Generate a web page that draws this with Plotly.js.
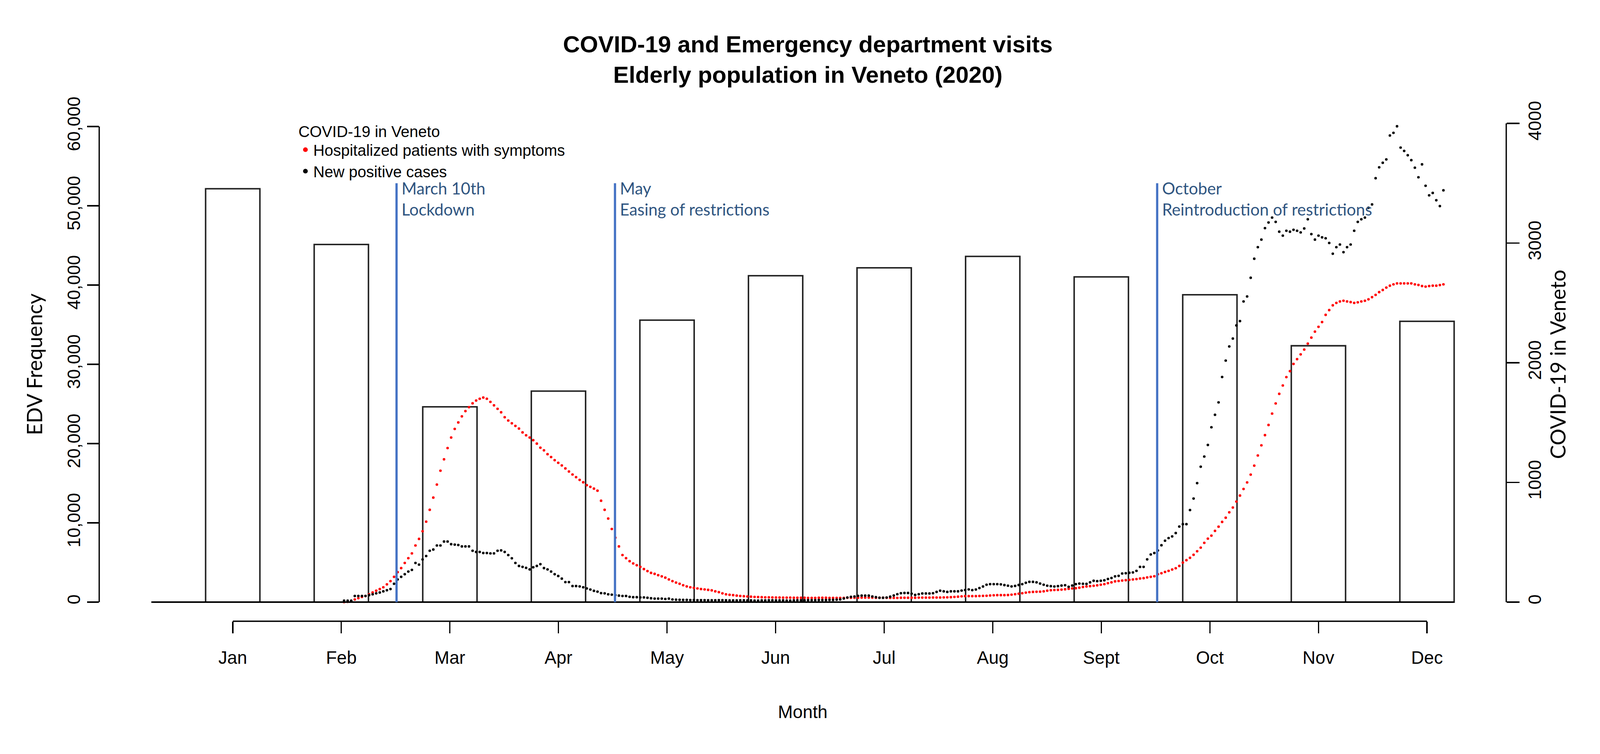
<!DOCTYPE html>
<html>
<head>
<meta charset="utf-8">
<script src="https://cdn.plot.ly/plotly-3.0.1.min.js"></script>
<style>html,body{margin:0;padding:0;background:#fff;overflow:hidden;}</style>
</head>
<body>
<div id="chart"></div>
<script>
// monthly emergency department visits (bars)
const months = ['Jan', 'Feb', 'Mar', 'Apr', 'May', 'Jun', 'Jul', 'Aug', 'Sept', 'Oct', 'Nov', 'Dec'];
const edvVisits = [52150, 45120, 24640, 26620, 35570, 41180, 42170, 43610, 41030, 38770, 32340, 35420];

// daily COVID-19 series, first value = 24 Feb 2020 (day of year 55)
const firstDay = 55;
const hospitalized = [
  0, 2, 8, 22, 33, 43, 51,
  65, 80, 95, 109, 124, 148, 175, 211, 250, 284, 327, 367, 407,
  473, 528, 592, 672, 771, 873, 982, 1098, 1193, 1287, 1375, 1447, 1501, 1552, 1596, 1629, 1661, 1684, 1699, 1709,
  1699, 1673, 1644, 1615, 1586, 1545, 1517, 1494, 1472, 1450, 1418, 1394, 1375, 1353, 1324, 1290,
  1268, 1236, 1212, 1186, 1164, 1142, 1117, 1091, 1066, 1044, 1021, 1001, 977, 963, 948, 931,
  847, 771, 698, 611, 538, 465, 393, 367, 342, 323, 308, 294, 276, 259, 244, 236, 225, 215, 204, 189,
  175, 163, 153, 141, 131, 124, 119, 114, 109, 106, 102, 98, 90, 83, 73, 65, 61, 58, 54,
  51, 49, 47, 45, 43, 42, 41, 40, 40, 39,
  38, 38, 37, 37, 37, 36, 36, 36, 36, 35, 35, 35, 36, 36, 36, 35, 35, 35, 35, 35, 36, 36, 36, 36, 37, 37, 37, 37,
  36, 36, 36, 36, 35, 35, 35, 36, 36, 36, 36, 36, 37, 37, 37, 37, 38, 38, 38, 39, 40, 41, 43,
  45, 48, 50, 50, 50, 50, 51, 52, 53, 55, 57, 58, 58, 58, 59, 62, 66, 70, 74,
  79, 83, 85, 86, 87, 90, 95, 99, 101, 102, 104, 107, 111, 114, 116, 120,
  126, 130, 133, 136, 140, 145, 150, 158, 165,
  173, 176, 180, 183, 186, 189, 192, 197, 200, 206, 211, 216,
  233, 241, 252, 261, 272, 283, 302, 330, 350, 370, 395, 425, 455, 495, 530, 555, 595, 630, 670, 705,
  750, 790, 840, 890, 945, 1000, 1065, 1140, 1225, 1310, 1395, 1480, 1575, 1660, 1740, 1810, 1880, 1930, 1990, 2030,
  2070, 2110, 2160, 2210, 2260, 2300, 2340, 2400, 2440, 2480, 2500, 2512, 2518, 2512, 2507, 2500, 2505, 2512, 2518, 2530,
  2548, 2567, 2590, 2608, 2628, 2644, 2655, 2663, 2663, 2663, 2663, 2663, 2655, 2650, 2641, 2636, 2641, 2644, 2644, 2649, 2655
];
const newCases = [
  12, 12, 12, 51, 51, 51, 51,
  58, 65, 73, 80, 90, 99, 109,
  153, 189, 211, 233, 255, 269,
  327, 313, 356, 385, 429, 439, 473, 473, 506, 506,
  484, 480, 477, 465, 465, 465, 429, 419, 419, 410, 410, 407, 407,
  429, 432, 419, 393, 366, 327, 302, 294, 286, 273, 291, 302, 317,
  284, 273, 255, 233, 218, 196, 167, 167, 134, 134,
  131, 124, 114, 105, 94, 87, 75, 73, 65, 62,
  58, 54, 51, 51, 44, 41, 41, 39, 39, 36, 32, 29, 29, 29, 26, 29,
  22, 20, 19, 18, 18, 17, 17, 16, 16, 16, 15, 15, 15, 16, 16, 15, 14, 14, 14, 15,
  15, 14, 14, 13, 13, 14, 14, 15, 15, 14, 14, 14, 13, 13, 14, 15, 15, 15, 16, 16,
  16, 17, 17, 17, 18, 18, 20,
  22, 30, 38, 44, 47, 52, 54, 54, 54, 47, 41, 36, 36, 38, 45, 55, 66, 74, 76, 76,
  70, 60, 66, 72, 72, 72, 74, 85, 95, 90, 85, 90, 90, 90, 96, 101, 106, 100, 105, 117,
  130, 145, 150, 150, 150, 148, 142, 137, 131, 135, 143, 150, 161, 169, 169, 165, 155, 145, 137, 133,
  130, 133, 138, 141, 128, 138, 150, 155, 153, 152, 165, 178, 175, 178, 182, 193, 201, 215,
  219, 239, 241, 245, 248, 261, 294, 294, 357, 398, 410, 431, 475, 513, 535, 549, 577, 631, 651, 651,
  769, 865, 994, 1131, 1216, 1313, 1461, 1565, 1669, 1881, 2018, 2136, 2202, 2312, 2348, 2512, 2554, 2710, 2869, 2966,
  3029, 3125, 3172, 3213, 3177, 3095, 3062, 3103, 3095, 3111, 3103, 3089, 3122, 3199, 3075, 3029, 3062, 3048, 3040, 3001,
  2911, 2966, 2988, 2924, 2966, 2988, 3103, 3177, 3199, 3213, 3295, 3323, 3542, 3633, 3671, 3699, 3899, 3921, 3976, 3798,
  3770, 3734, 3693, 3630, 3550, 3658, 3479, 3399, 3419, 3358, 3309, 3441
];

// events marked on the chart (day of year)
const eventDays = [69.7, 130.9, 282.8];
const eventLabels = ['March 10th<br>Lockdown', 'May<br>Easing of restrictions', 'October<br>Reintroduction of restrictions'];

const leftTicks = [0, 10000, 20000, 30000, 40000, 50000, 60000];
const rightTicks = [0, 1000, 2000, 3000, 4000];

// barplot layout: width 1, space 1
const barX = months.map((m, i) => 2 * i + 1.5);
const days = hospitalized.map((v, i) => firstDay + i);

// sizes are measured on the 4516 x 1931 original, scaled to the real viewport
const vw = document.documentElement.clientWidth || window.innerWidth;
const vh = document.documentElement.clientHeight || window.innerHeight;
const SX = vw / 4516, SY = vh / 1931;
const SF = Math.sqrt(SX * SY);
const hx = v => v * SX;   // horizontal lengths
const vy = v => v * SY;   // vertical lengths
const fs = v => v * SF;   // fonts, line widths, markers

const ARIAL = 'Liberation Sans, Arial, sans-serif';
const CALIBRI = 'Lato, Open Sans, sans-serif';

var bars = {
    x: barX,
    y: edvVisits,
    type: 'bar',
    width: 1,
    marker: {color: 'white', line: {color: '#222', width: fs(4)}},
    showlegend: false,
    xaxis: 'x',
    yaxis: 'y'
};

var trace1 = {
    x: days,
    y: hospitalized,
    type: 'scatter',
    mode: 'markers',
    name: 'Hospitalized patients with symptoms',
    marker: {color: '#ff0000', size: fs(7)},
    xaxis: 'x2',
    yaxis: 'y2'
};

var trace2 = {
    x: days,
    y: newCases,
    type: 'scatter',
    mode: 'markers',
    name: 'New positive cases',
    marker: {color: '#000000', size: fs(7)},
    xaxis: 'x2',
    yaxis: 'y2'
};

var shapes = [
    // left and right axis lines only span the tick range
    {type: 'line', xref: 'paper', yref: 'y', x0: 0, x1: 0, y0: 0, y1: 60000, line: {color: '#000', width: fs(3.5)}},
    {type: 'line', xref: 'paper', yref: 'y2', x0: 1, x1: 1, y0: 0, y1: 4000, line: {color: '#000', width: fs(3.5)}},
    // month axis from Jan to Dec
    {type: 'line', xref: 'x', yref: 'paper', x0: barX[0], x1: barX[barX.length - 1], y0: 0, y1: 0, line: {color: '#000', width: fs(3.5)}},
    // bar baseline
    {type: 'line', xref: 'x', yref: 'y', x0: 0, x1: 24, y0: 0, y1: 0, line: {color: '#000', width: fs(4)}}
];
var annotations = [];
eventDays.forEach((d, i) => {
    shapes.push({type: 'line', xref: 'x2', yref: 'y2', x0: d, x1: d, y0: 0, y1: 3500,
                 line: {color: '#4472c4', width: fs(6)}, layer: 'above'});
    annotations.push({x: d, y: 3500, xref: 'x2', yref: 'y2', xanchor: 'left', yanchor: 'top',
                      xshift: hx(12), yshift: vy(14), align: 'left', showarrow: false,
                      text: eventLabels[i], font: {family: CALIBRI, size: fs(44), color: '#2f5581'}});
});

var layout = {
    width: vw,
    height: vh,
    margin: {l: hx(280), r: hx(265), t: vy(275), b: vy(340)},
    paper_bgcolor: 'white',
    plot_bgcolor: 'white',
    title: {
        text: 'COVID-19 and Emergency department visits<br>Elderly population in Veneto (2020)',
        font: {family: ARIAL, size: fs(63), color: '#000', weight: 700},
        x: 0.5049, xref: 'container', xanchor: 'center',
        y: 0.9305, yref: 'container', yanchor: 'middle'
    },
    xaxis: {
        range: [-0.96, 24.96],
        tickvals: barX,
        ticktext: months,
        ticks: 'outside', ticklen: vy(30), tickwidth: fs(3.5), tickcolor: '#000',
        ticklabelstandoff: vy(23),
        showline: false, showgrid: false, zeroline: false,
        tickfont: {family: ARIAL, size: fs(48), color: '#000'},
        title: {text: 'Month', font: {family: ARIAL, size: fs(48), color: '#000'}, standoff: vy(98)}
    },
    xaxis2: {
        range: [-13.6, 380.6],
        overlaying: 'x',
        visible: false
    },
    yaxis: {
        range: [-2414, 62414],
        tickvals: leftTicks,
        tickformat: ',d',
        tickangle: -90,
        ticks: 'outside', ticklen: hx(33), tickwidth: fs(3.5), tickcolor: '#000',
        ticklabelstandoff: hx(40),
        showline: false, showgrid: false, zeroline: false,
        tickfont: {family: ARIAL, size: fs(48), color: '#000'},
        title: {text: 'EDV Frequency', font: {family: CALIBRI, size: fs(56), color: '#000'}, standoff: hx(41)}
    },
    yaxis2: {
        range: [-160, 4134],
        overlaying: 'y',
        side: 'right',
        tickvals: rightTicks,
        tickformat: 'd',
        tickangle: -90,
        ticks: 'outside', ticklen: hx(36), tickwidth: fs(3.5), tickcolor: '#000',
        ticklabelstandoff: hx(20),
        showline: false, showgrid: false, zeroline: false,
        tickfont: {family: ARIAL, size: fs(48), color: '#000'},
        title: {text: 'COVID-19 in Veneto', font: {family: CALIBRI, size: fs(56), color: '#000'}, standoff: hx(14)}
    },
    showlegend: true,
    legend: {
        title: {text: 'COVID-19 in Veneto', font: {family: ARIAL, size: fs(42), color: '#000'}},
        font: {family: ARIAL, size: fs(42), color: '#000'},
        x: 0.141, y: 0.982, xanchor: 'left', yanchor: 'top',
        bgcolor: 'rgba(0,0,0,0)',
        itemsizing: 'constant',
        tracegroupgap: 0
    },
    shapes: shapes,
    annotations: annotations,
    hovermode: false
};

Plotly.newPlot('chart', [bars, trace1, trace2], layout, {staticPlot: true});
</script>
</body>
</html>
